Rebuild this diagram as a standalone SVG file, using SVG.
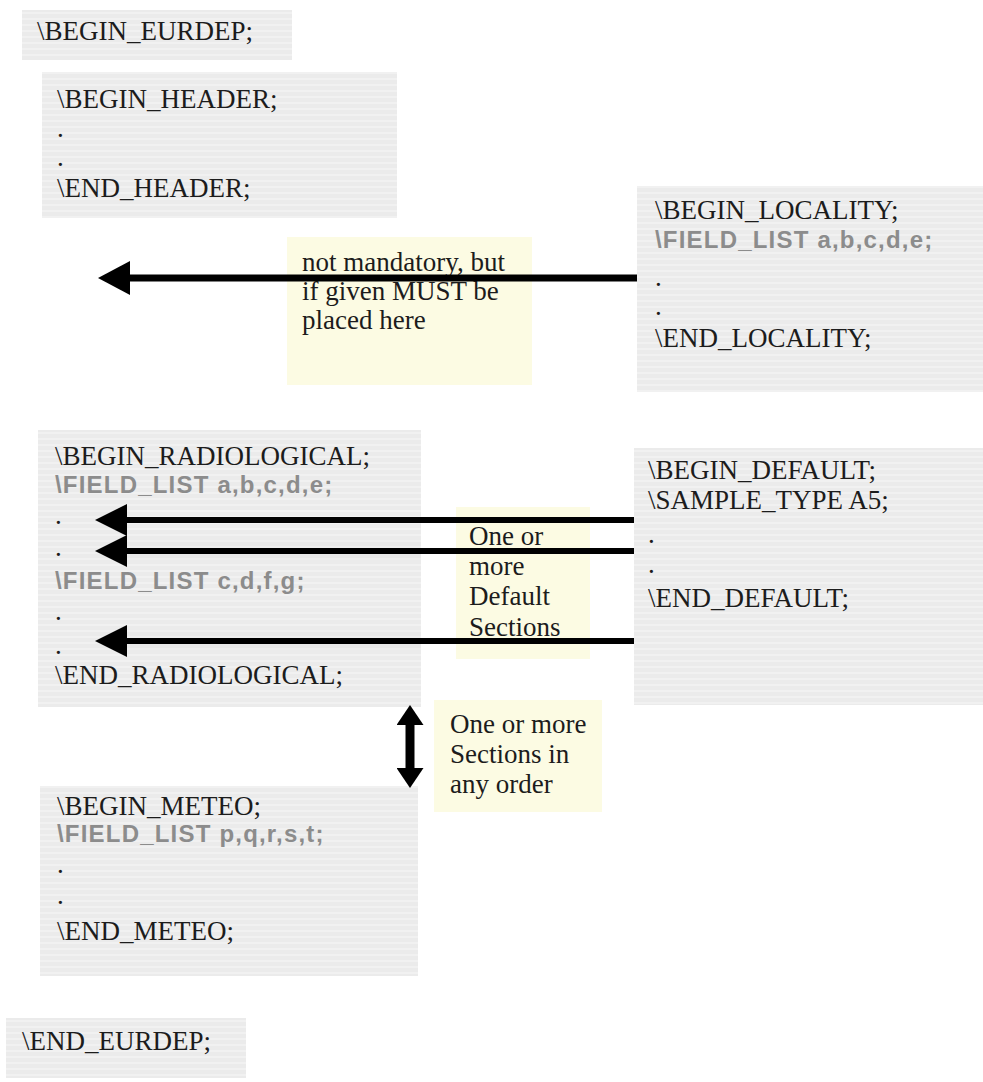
<svg xmlns="http://www.w3.org/2000/svg" width="983" height="1082" viewBox="0 0 983 1082">
<style>
.box{fill:url(#stripes)}
.note{fill:#fcfbe3}
.t{font-family:"Liberation Serif","Times New Roman",serif;font-size:27px;fill:#1c1c1c}
.f{font-family:"Liberation Sans",Arial,sans-serif;font-size:24px;font-weight:bold;letter-spacing:1.2px;fill:#8c8c8c}
.arr{stroke:#000;fill:none}
</style>
<defs>
<pattern id="stripes" patternUnits="userSpaceOnUse" width="8" height="6">
<rect width="8" height="6" fill="#ebebeb"/>
<rect y="0" width="8" height="2" fill="#f1f1f1"/>
</pattern>
<marker id="headA" viewBox="0 0 32 34" refX="0" refY="17" markerWidth="32" markerHeight="34" markerUnits="userSpaceOnUse" orient="auto">
<path d="M0,0 L32,17 L0,34 Z" fill="#000"/>
</marker>
<marker id="headB" viewBox="0 0 32 32" refX="0" refY="16" markerWidth="32" markerHeight="32" markerUnits="userSpaceOnUse" orient="auto">
<path d="M0,0 L32,16 L0,32 Z" fill="#000"/>
</marker>
<marker id="headV" viewBox="0 0 20 27" refX="0" refY="13.5" markerWidth="20" markerHeight="27" markerUnits="userSpaceOnUse" orient="auto-start-reverse">
<path d="M0,0 L20,13.5 L0,27 Z" fill="#000"/>
</marker>
</defs>

<g id="eurdep-begin">
<rect class="box" x="22" y="10" width="270" height="50"/>
<text class="t" x="37" y="40">\BEGIN_EURDEP;</text>
</g>

<g id="header">
<rect class="box" x="42" y="72" width="355" height="146"/>
<text class="t" x="57" y="108">\BEGIN_HEADER;</text>
<text class="t" x="57" y="137">.</text>
<text class="t" x="57" y="166">.</text>
<text class="t" x="57" y="197">\END_HEADER;</text>
</g>

<g id="locality">
<rect class="box" x="637" y="186" width="346" height="206"/>
<text class="t" x="655" y="219">\BEGIN_LOCALITY;</text>
<text class="f" x="655" y="248">\FIELD_LIST a,b,c,d,e;</text>
<text class="t" x="655" y="286">.</text>
<text class="t" x="655" y="315">.</text>
<text class="t" x="655" y="347">\END_LOCALITY;</text>
</g>

<g id="note-locality">
<rect class="note" x="287" y="237" width="245" height="148"/>
<text class="t" x="302" y="271">not mandatory, but</text>
<text class="t" x="302" y="300">if given MUST be</text>
<text class="t" x="302" y="329">placed here</text>
</g>

<g id="radiological">
<rect class="box" x="38" y="430" width="383" height="277"/>
<text class="t" x="55" y="465">\BEGIN_RADIOLOGICAL;</text>
<text class="f" x="55" y="493">\FIELD_LIST a,b,c,d,e;</text>
<text class="t" x="55" y="524">.</text>
<text class="t" x="55" y="556">.</text>
<text class="f" x="55" y="589">\FIELD_LIST c,d,f,g;</text>
<text class="t" x="55" y="620">.</text>
<text class="t" x="55" y="654">.</text>
<text class="t" x="55" y="684">\END_RADIOLOGICAL;</text>
</g>

<g id="default">
<rect class="box" x="634" y="448" width="349" height="257"/>
<text class="t" x="648" y="479">\BEGIN_DEFAULT;</text>
<text class="t" x="648" y="509">\SAMPLE_TYPE A5;</text>
<text class="t" x="648" y="543">.</text>
<text class="t" x="648" y="573">.</text>
<text class="t" x="648" y="607">\END_DEFAULT;</text>
</g>

<g id="note-default">
<rect class="note" x="456" y="507" width="134" height="152"/>
<text class="t" x="469" y="545">One or</text>
<text class="t" x="469" y="575">more</text>
<text class="t" x="469" y="605">Default</text>
<text class="t" x="469" y="636">Sections</text>
</g>

<g id="note-order">
<rect class="note" x="434" y="700" width="168" height="112"/>
<text class="t" x="450" y="733">One or more</text>
<text class="t" x="450" y="763">Sections in</text>
<text class="t" x="450" y="793">any order</text>
</g>

<g id="meteo">
<rect class="box" x="40" y="786" width="378" height="190"/>
<text class="t" x="57" y="815">\BEGIN_METEO;</text>
<text class="f" x="57" y="842">\FIELD_LIST p,q,r,s,t;</text>
<text class="t" x="57" y="873">.</text>
<text class="t" x="57" y="904">.</text>
<text class="t" x="57" y="940">\END_METEO;</text>
</g>

<g id="eurdep-end">
<rect class="box" x="6" y="1018" width="240" height="60"/>
<text class="t" x="22" y="1050">\END_EURDEP;</text>
</g>

<g id="connectors">
<line class="arr" x1="637" y1="278" x2="130" y2="278" stroke-width="7" marker-end="url(#headA)"/>
<line class="arr" x1="634" y1="520" x2="127" y2="520" stroke-width="6" marker-end="url(#headB)"/>
<line class="arr" x1="634" y1="551" x2="127" y2="551" stroke-width="6" marker-end="url(#headB)"/>
<line class="arr" x1="634" y1="641" x2="127" y2="641" stroke-width="6" marker-end="url(#headB)"/>
<line class="arr" x1="410" y1="725" x2="410" y2="768" stroke-width="9" marker-start="url(#headV)" marker-end="url(#headV)"/>
</g>
</svg>
